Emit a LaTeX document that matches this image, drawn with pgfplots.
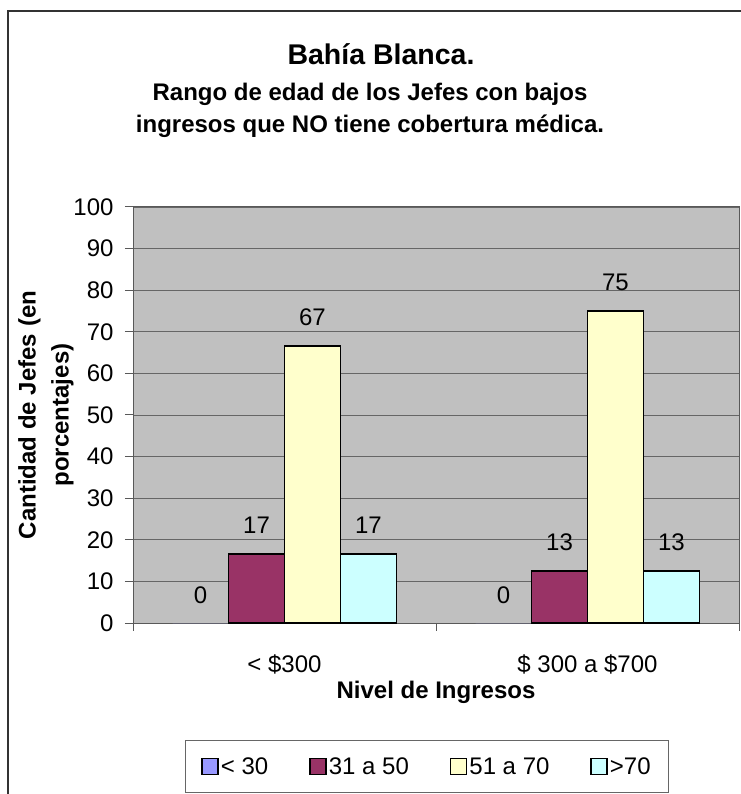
\documentclass[border=0pt]{standalone}
\usepackage{pgfplots}
\pgfplotsset{compat=1.18}
\usepackage{pgfplotstable}
\usepackage{fontspec}
\setmainfont{Liberation Sans}

\definecolor{plotbg}{RGB}{192,192,192}
\definecolor{cA}{RGB}{153,153,255}
\definecolor{cB}{RGB}{153,51,102}
\definecolor{cC}{RGB}{255,255,204}
\definecolor{cD}{RGB}{204,255,255}

% edad del jefe: < 30, 31 a 50, 51 a 70, >70 (porcentajes)
\pgfplotstableread{
x   y      lab
0.5 0      0
1.5 0      0
}\edadA
\pgfplotstableread{
x   y      lab
0.5 16.67  17
1.5 12.5   13
}\edadB
\pgfplotstableread{
x   y      lab
0.5 66.67  67
1.5 75     75
}\edadC
\pgfplotstableread{
x   y      lab
0.5 16.67  17
1.5 12.5   13
}\edadD

\newcommand{\fr}{\fontsize{24bp}{28bp}\selectfont}
\newcommand{\fb}{\bfseries\fontsize{24bp}{33bp}\selectfont}

\pgfplotsset{
  sq/.style={legend image code/.code={
    \draw[##1,draw=black,line width=1.5bp] (0bp,-8bp) rectangle (16bp,8bp);}},
}

\begin{document}
\begin{tikzpicture}
\draw[black!80, line width=1.3bp] (8bp,-5bp) -- (8bp,783bp) -- (760bp,783bp);

\node[anchor=base, font=\bfseries\fontsize{28.5bp}{32bp}\selectfont] at (381bp,729bp) {Bahía Blanca.};
\node[anchor=base, font=\bfseries\fontsize{24bp}{28bp}\selectfont] at (370bp,693bp) {Rango de edad de los Jefes con bajos};
\node[anchor=base, font=\bfseries\fontsize{24bp}{28bp}\selectfont] at (370bp,661bp) {ingresos que NO tiene cobertura médica.};

\begin{axis}[
  at={(133bp,171bp)}, anchor=south west,
  width=606bp, height=416bp, scale only axis,
  xmin=0, xmax=2, ymin=0, ymax=100,
  ybar=0pt, bar width=0.1848,
  axis background/.style={fill=plotbg},
  axis line style={draw=black!65, line width=1bp},
  ymajorgrids, grid style={draw=black!60, line width=0.8bp},
  ytick={0,10,...,100}, ytick pos=left,
  xtick={0,1,2}, xticklabels={,,}, xtick pos=bottom,
  extra x ticks={0.5,1.5},
  extra x tick labels={< \$300, \$ 300 a \$700},
  extra x tick style={major tick length=0pt},
  tick align=outside, major tick length=8bp,
  tick style={draw=black!65, line width=1bp},
  tick label style={font=\fr},
  /pgf/number format/assume math mode=true,
  xticklabel style={anchor=base, yshift=-49bp},
  yticklabel style={xshift=-8bp},
  xlabel={Nivel de Ingresos},
  xlabel style={font=\fb, at={(axis description cs:0.5,-0.1803)}, anchor=base},
  ylabel={Cantidad de Jefes (en\\porcentajes)},
  ylabel style={font=\fb, align=center, at={(axis description cs:-0.1436,0.5)}, anchor=center},
  nodes near coords, point meta=explicit symbolic,
  every node near coord/.append style={font=\fr, anchor=south, inner sep=0pt, yshift=19.5bp},
  legend columns=4,
  legend style={at={(axis description cs:0.0858,-0.4087)}, anchor=south west,
    draw=black!60, line width=1bp, fill=white, font=\fr,
    inner ysep=15bp, inner xsep=16bp,
    /tikz/every even column/.append style={column sep=39bp}},
]
\addplot[fill=cA, draw=none, sq] table[x=x, y=y, meta=lab] {\edadA};
\addlegendentry{< 30}
\addplot[fill=cB, draw=black, line width=1.8bp, sq] table[x=x, y=y, meta=lab] {\edadB};
\addlegendentry{31 a 50}
\addplot[fill=cC, draw=black, line width=1.8bp, sq] table[x=x, y=y, meta=lab] {\edadC};
\addlegendentry{51 a 70}
\addplot[fill=cD, draw=black, line width=1.8bp, sq] table[x=x, y=y, meta=lab] {\edadD};
\addlegendentry{>70}
\end{axis}

\pgfresetboundingbox
\useasboundingbox (0,0) rectangle (741bp,794bp);
\end{tikzpicture}
\end{document}
